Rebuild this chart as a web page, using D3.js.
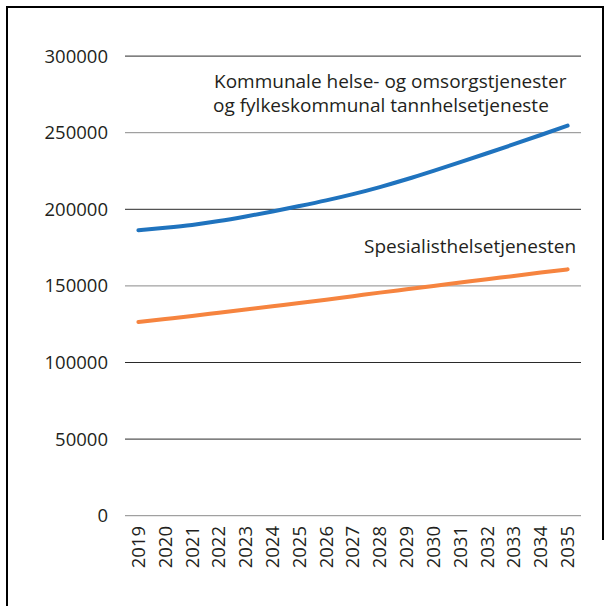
<!DOCTYPE html>
<html>
  <head>
    <meta charset="utf-8">
    <title>Kommunale og spesialisthelsetjenester</title>
    <style>
      body { margin: 0; background: #fff; }
      text { font-family: "Open Sans", "Noto Sans", sans-serif; fill: #231f20; }
    </style>
  </head>
  <body>
    <script src="https://d3js.org/d3.v7.min.js"></script>
    <svg id="chart" width="611" height="606"></svg>
    <script>
      const years = ['2019', '2020', '2021', '2022', '2023', '2024', '2025', '2026', '2027',
                     '2028', '2029', '2030', '2031', '2032', '2033', '2034', '2035']

      // Kommunale helse- og omsorgstjenester og fylkeskommunal tannhelsetjeneste
      const kommunal = [186300, 187900, 189800, 192300, 195300, 198600, 202100, 205800, 209900,
                        214500, 219600, 225100, 230800, 236600, 242500, 248500, 254600]

      // Spesialisthelsetjenesten
      const spesialist = [126400, 128400, 130400, 132500, 134600, 136700, 138800, 141000, 143300,
                          145600, 147800, 150000, 152200, 154400, 156500, 158700, 160800]

      const yTicks = [0, 50000, 100000, 150000, 200000, 250000, 300000]

      const svg = d3.select('#chart')

      // frame
      svg.append('path')
        .attr('d', 'M7,606 V7 H603 V540')
        .attr('fill', 'none')
        .attr('stroke', '#000')
        .attr('stroke-width', 2)

      const x = d3.scaleBand()
        .domain(years)
        .range([125, 581])

      const y = d3.scaleLinear()
        .domain([0, 300000])
        .range([515.7, 56.1])

      // grid lines
      const darker = new Set([300000, 200000, 100000, 50000])
      svg.append('g')
        .selectAll('line')
        .data(yTicks)
        .join('line')
          .attr('x1', 125)
          .attr('x2', 581)
          .attr('y1', d => y(d))
          .attr('y2', d => y(d))
          .attr('stroke', d => darker.has(d) ? '#2a2a2a' : '#8a8a8a')
          .attr('stroke-width', 1)

      // y axis labels
      const yAxis = d3.axisLeft(y).tickValues(yTicks).tickSize(0).tickPadding(0)
        .tickFormat(d3.format('d'))
      svg.append('g')
        .attr('transform', 'translate(108,0)')
        .call(yAxis)
        .call(g => g.select('.domain').remove())
        .call(g => g.selectAll('text')
          .style('font-family', '"Open Sans", sans-serif')
          .style('font-size', '18.5px')
          .attr('fill', '#231f20'))

      // x axis labels, rotated
      svg.append('g')
        .selectAll('text')
        .data(years)
        .join('text')
          .attr('transform', d => `translate(${x(d) + x.bandwidth() / 2},526) rotate(-90)`)
          .attr('text-anchor', 'end')
          .attr('dy', '0.35em')
          .style('font-size', '18.5px')
          .text(d => d)

      const line = d3.line()
        .x((d, i) => x(years[i]) + x.bandwidth() / 2)
        .y(d => y(d))
        .curve(d3.curveMonotoneX)

      svg.append('path')
        .datum(kommunal)
        .attr('d', line)
        .attr('fill', 'none')
        .attr('stroke', '#1f73be')
        .attr('stroke-width', 4)
        .attr('stroke-linecap', 'round')

      svg.append('path')
        .datum(spesialist)
        .attr('d', line)
        .attr('fill', 'none')
        .attr('stroke', '#f6843f')
        .attr('stroke-width', 4)
        .attr('stroke-linecap', 'round')

      // series labels
      const labels = svg.append('g').style('font-size', '19px')
      labels.append('text').attr('x', 214).attr('y', 88).text('Kommunale helse- og omsorgstjenester')
      labels.append('text').attr('x', 213).attr('y', 112).text('og fylkeskommunal tannhelsetjeneste')
      labels.append('text').attr('x', 364).attr('y', 253).text('Spesialisthelsetjenesten')
    </script>
  </body>
</html>
